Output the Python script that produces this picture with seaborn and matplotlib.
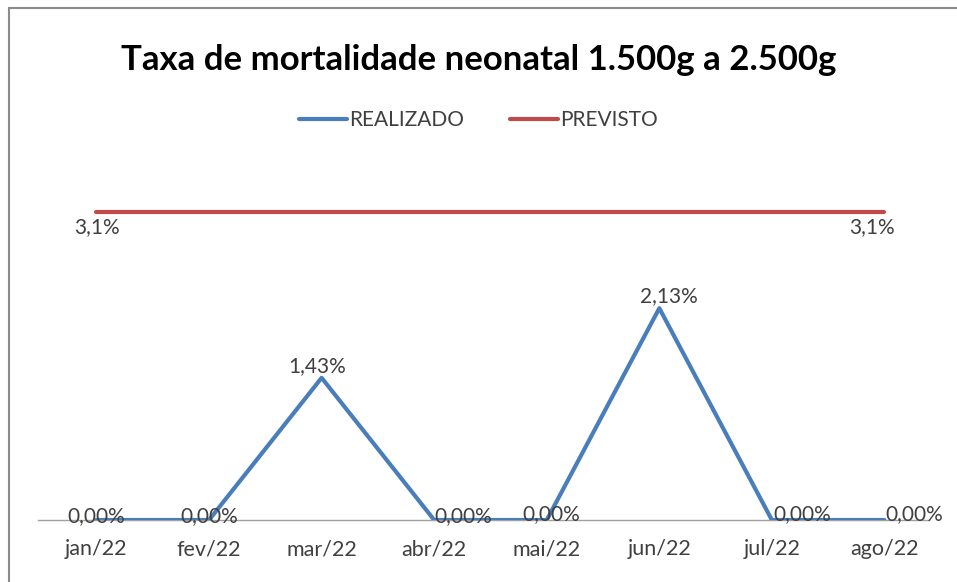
import matplotlib.pyplot as plt
import seaborn as sns
import pandas as pd
from matplotlib.lines import Line2D

# Data
meses = ['jan/22', 'fev/22', 'mar/22', 'abr/22', 'mai/22', 'jun/22', 'jul/22', 'ago/22']
realizado = [0.0, 0.0, 1.43, 0.0, 0.0, 2.13, 0.0, 0.0]
previsto = [3.1, 3.1, 3.1, 3.1, 3.1, 3.1, 3.1, 3.1]

df = pd.DataFrame({'Mês': meses, 'REALIZADO': realizado, 'PREVISTO': previsto})
df_long = df.melt(id_vars='Mês', var_name='Série', value_name='Taxa')

sns.set_style('white')
plt.rcParams['font.family'] = ['Lato', 'DejaVu Sans']

fig = plt.figure(figsize=(9.57, 5.82), dpi=100)
ax = fig.add_axes([0.042, 0.1065, 0.941, 0.598])

sns.lineplot(data=df_long, x='Mês', y='Taxa', hue='Série', sort=False,
             palette={'REALIZADO': '#4a7ebb', 'PREVISTO': '#be4b48'},
             linewidth=3, ax=ax, legend=False)

ax.set_xlim(-0.5, len(meses) - 0.5)
ax.set_ylim(0, 3.5)
ax.set_xlabel('')
ax.set_ylabel('')
ax.set_yticks([])
for s in ['top', 'right', 'left']:
    ax.spines[s].set_visible(False)
ax.spines['bottom'].set_color('#a0a0a0')
ax.spines['bottom'].set_linewidth(1)
ax.spines['bottom'].set_zorder(0)
ax.spines['bottom'].set_bounds(-0.52, 7.4)
ax.tick_params(axis='x', length=0, labelsize=15.5, colors='#404040', pad=14)

# rótulos de dados (deslocamentos em pixels, como no original)
desloc_real = [(0, 4), (0, 4), (-4, 12), (29, 4), (5, 6), (10, 12), (30, 6), (30, 6)]
for i, v in enumerate(realizado):
    ax.annotate(f'{v:.2f}%'.replace('.', ','), (i, v), xytext=desloc_real[i],
                textcoords='offset pixels', ha='center', va='center',
                fontsize=15, color='#404040')
desloc_prev = {0: (0, -15), len(meses) - 1: (-12, -15)}
for i, d in desloc_prev.items():
    ax.annotate(f'{previsto[i]:.1f}%'.replace('.', ','), (i, previsto[i]), xytext=d,
                textcoords='offset pixels', ha='center', va='center',
                fontsize=15, color='#404040')

fig.suptitle('Taxa de mortalidade neonatal 1.500g a 2.500g', y=0.925,
             fontsize=25, fontweight='bold', color='#000000')

handles = [Line2D([], [], color='#4a7ebb', lw=3), Line2D([], [], color='#be4b48', lw=3)]
fig.legend(handles, ['REALIZADO', 'PREVISTO'], loc='center', bbox_to_anchor=(0.5, 0.793),
           ncol=2, frameon=False, fontsize=15, handlelength=2.3, handletextpad=0.1,
           columnspacing=2.2, labelcolor='#404040')

# moldura do gráfico
fig.patches.append(plt.Rectangle((0.009, -0.01), 1.0, 0.997, transform=fig.transFigure,
                                 fill=False, edgecolor='#8c8c8c', linewidth=1.5))

plt.savefig('out.png', dpi=100)
